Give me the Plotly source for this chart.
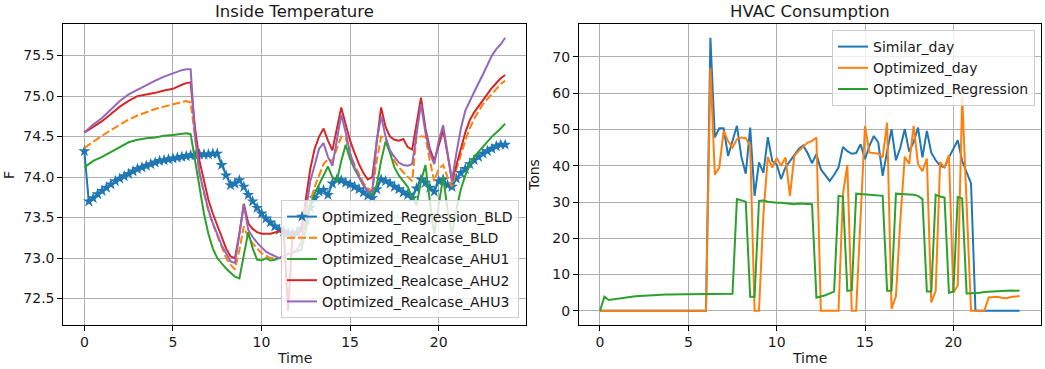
import plotly.graph_objects as go

# ---------------- data ----------------
# 15-minute time grid (hours)
time_h = [0, 0.25, 0.5, 0.75, 1, 1.25, 1.5, 1.75, 2, 2.25, 2.5, 2.75, 3, 3.25, 3.5, 3.75,
          4, 4.25, 4.5, 4.75, 5, 5.25, 5.5, 5.75, 6, 6.25, 6.5, 6.75, 7, 7.25, 7.5, 7.75,
          8, 8.25, 8.5, 8.75, 9, 9.25, 9.5, 9.75, 10, 10.25, 10.5, 10.75, 11, 11.25, 11.5, 11.75,
          12, 12.25, 12.5, 12.75, 13, 13.25, 13.5, 13.75, 14, 14.25, 14.5, 14.75, 15, 15.25, 15.5, 15.75,
          16, 16.25, 16.5, 16.75, 17, 17.25, 17.5, 17.75, 18, 18.25, 18.5, 18.75, 19, 19.25, 19.5, 19.75,
          20, 20.25, 20.5, 20.75, 21, 21.25, 21.5, 21.75, 22, 22.25, 22.5, 22.75, 23, 23.25, 23.5, 23.75]

# Inside temperature (F)
regression_bld = [74.32, 73.70, 73.74, 73.79, 73.83, 73.87, 73.91, 73.95, 73.98, 74.01, 74.04, 74.07,
                  74.10, 74.12, 74.14, 74.16, 74.18, 74.20, 74.21, 74.22, 74.23, 74.24, 74.25, 74.26,
                  74.27, 74.27, 74.28, 74.28, 74.28, 74.29, 74.29, 74.15, 74.02, 73.90, 73.92, 73.96,
                  73.88, 73.78, 73.70, 73.62, 73.55, 73.49, 73.44, 73.39, 73.35, 73.33, 73.31, 73.30,
                  73.31, 73.36, 73.47, 73.62, 73.74, 73.82, 73.84, 73.78, 73.92, 73.97, 73.96, 73.93,
                  73.91, 73.88, 73.85, 73.81, 73.77, 73.74, 73.85, 73.97, 73.95, 73.92, 73.88, 73.85,
                  73.81, 73.78, 73.74, 73.86, 73.97, 73.93, 73.87, 73.82, 73.95, 73.97, 73.90, 73.88,
                  73.98, 74.05, 74.10, 74.16, 74.21, 74.25, 74.29, 74.32, 74.35, 74.38, 74.40, 74.40]

realcase_bld_t = [0, 0.5, 1, 1.5, 2, 2.5, 3, 3.5, 4, 4.5, 5, 5.5, 5.75, 6, 6.25, 6.5, 6.75, 7, 7.25,
                  7.5, 7.75, 8, 8.25, 8.5, 8.75, 9, 9.25, 9.5, 9.75, 10, 10.25, 10.5, 11, 11.5, 12,
                  12.25, 12.5, 12.75, 13, 13.25, 13.5, 13.75, 14, 14.25, 14.5, 14.75, 15, 15.25, 15.5,
                  15.75, 16, 16.25, 16.5, 16.75, 17, 17.25, 17.5, 17.75, 18, 18.25, 18.5, 18.75, 19,
                  19.25, 19.5, 19.75, 20, 20.25, 20.5, 20.75, 21, 21.25, 21.5, 21.75, 22, 22.5, 23,
                  23.5, 23.75]
realcase_bld = [74.36, 74.44, 74.51, 74.58, 74.65, 74.71, 74.76, 74.80, 74.84, 74.87, 74.90, 74.93,
                74.94, 74.92, 74.45, 74.05, 73.80, 73.58, 73.42, 73.28, 73.13, 73.00, 72.92, 72.86,
                73.10, 73.39, 73.26, 73.18, 73.12, 73.06, 73.03, 73.00, 73.00, 73.05, 73.10, 73.20,
                73.45, 73.70, 73.88, 74.02, 74.16, 74.22, 74.20, 74.35, 74.50, 74.48, 74.28, 74.15,
                74.04, 73.93, 73.86, 73.83, 74.20, 74.50, 74.48, 74.32, 74.20, 74.12, 74.06, 74.00,
                73.95, 74.50, 74.50, 74.50, 74.20, 73.95, 74.10, 74.15, 74.00, 73.88, 74.10, 74.28,
                74.45, 74.60, 74.72, 74.90, 75.03, 75.15, 75.19]

ahu1_t = [0, 0.5, 1, 1.5, 2, 2.5, 3, 3.5, 4, 4.5, 5, 5.5, 5.75, 6, 6.25, 6.5, 6.75, 7, 7.25, 7.5,
          7.75, 8, 8.25, 8.5, 8.75, 9, 9.25, 9.5, 9.75, 10, 10.25, 10.5, 10.75, 11, 11.5, 12, 12.25,
          12.5, 12.75, 13, 13.25, 13.5, 13.75, 14, 14.25, 14.5, 14.75, 15, 15.25, 15.5, 15.75, 16,
          16.25, 16.5, 16.75, 17, 17.25, 17.5, 17.75, 18, 18.25, 18.5, 18.75, 19, 19.25, 19.5,
          19.75, 20, 20.25, 20.5, 20.75, 21, 21.25, 21.5, 21.75, 22, 22.5, 23, 23.5, 23.75]
ahu1 = [74.12, 74.20, 74.25, 74.31, 74.38, 74.43, 74.46, 74.48, 74.49, 74.51, 74.52, 74.53, 74.54,
        74.53, 74.20, 73.85, 73.55, 73.30, 73.12, 73.00, 72.93, 72.87, 72.82, 72.77, 72.75, 73.05,
        73.32, 73.12, 72.98, 72.97, 73.00, 72.97, 72.98, 73.00, 73.05, 73.08, 73.10, 73.35, 73.65,
        73.80, 73.92, 74.02, 74.13, 74.00, 73.95, 74.20, 74.40, 74.22, 74.10, 74.00, 73.90, 73.83,
        73.78, 73.90, 74.20, 74.44, 74.30, 74.12, 74.02, 73.95, 73.88, 73.75, 73.65, 73.95, 74.15,
        73.70, 73.30, 73.65, 74.00, 73.60, 73.30, 73.60, 73.85, 74.02, 74.15, 74.25, 74.38, 74.50,
        74.60, 74.66]

ahu2_t = [0, 0.5, 1, 1.5, 2, 2.5, 3, 3.5, 4, 4.5, 5, 5.5, 5.75, 6, 6.25, 6.5, 6.75, 7, 7.25, 7.5,
          7.75, 8, 8.25, 8.5, 8.75, 9, 9.25, 9.5, 9.75, 10, 10.5, 11, 11.25, 11.5, 11.75, 12, 12.25,
          12.5, 12.75, 13, 13.25, 13.5, 13.75, 14, 14.25, 14.5, 14.75, 15, 15.25, 15.5, 15.75, 16,
          16.25, 16.5, 16.75, 17, 17.25, 17.5, 17.75, 18, 18.25, 18.5, 18.75, 19, 19.25, 19.5,
          19.75, 20, 20.25, 20.5, 20.75, 21, 21.25, 21.5, 21.75, 22, 22.5, 23, 23.5, 23.75]
ahu2 = [74.55, 74.62, 74.69, 74.78, 74.87, 74.94, 75.00, 75.02, 75.04, 75.07, 75.09, 75.14, 75.16,
        75.17, 74.60, 74.20, 73.95, 73.72, 73.55, 73.40, 73.25, 73.12, 73.02, 73.00, 73.30, 73.67,
        73.43, 73.36, 73.32, 73.30, 73.30, 73.33, 73.33, 72.35, 73.30, 73.30, 73.35, 73.75, 74.10,
        74.35, 74.50, 74.60, 74.45, 74.33, 74.60, 74.86, 74.65, 74.45, 74.30, 74.16, 74.05, 73.97,
        74.00, 74.45, 74.86, 74.62, 74.50, 74.46, 74.45, 74.47, 74.37, 74.34, 74.65, 74.98, 74.60,
        74.35, 74.20, 74.40, 74.58, 74.28, 73.95, 74.15, 74.35, 74.55, 74.70, 74.80, 74.95, 75.10,
        75.22, 75.26]

ahu3_t = [0, 0.5, 1, 1.5, 2, 2.5, 3, 3.5, 4, 4.5, 5, 5.5, 5.75, 6, 6.25, 6.5, 6.75, 7, 7.25, 7.5,
          7.75, 8, 8.25, 8.5, 8.75, 9, 9.25, 9.5, 9.75, 10, 10.25, 10.5, 10.75, 11, 11.25, 11.5,
          11.75, 12, 12.25, 12.5, 12.75, 13, 13.25, 13.5, 13.75, 14, 14.25, 14.5, 14.75, 15, 15.25,
          15.5, 15.75, 16, 16.25, 16.5, 16.75, 17, 17.25, 17.5, 17.75, 18, 18.25, 18.5, 18.75, 19,
          19.25, 19.5, 19.75, 20, 20.25, 20.5, 20.75, 21, 21.25, 21.5, 21.75, 22, 22.5, 23, 23.25,
          23.5, 23.75]
ahu3 = [74.55, 74.65, 74.73, 74.83, 74.94, 75.02, 75.08, 75.14, 75.19, 75.24, 75.28, 75.32, 75.33,
        75.33, 74.50, 74.05, 73.82, 73.60, 73.43, 73.30, 73.16, 73.06, 72.96, 72.94, 73.30, 73.66,
        73.35, 73.26, 73.19, 73.13, 73.08, 73.05, 73.02, 73.00, 73.02, 73.05, 73.07, 73.10, 73.20,
        73.60, 73.95, 74.15, 74.35, 74.42, 74.25, 74.14, 74.45, 74.77, 74.55, 74.30, 74.12, 74.00,
        73.90, 73.82, 73.82, 74.45, 74.75, 74.50, 74.33, 74.25, 74.18, 74.15, 74.14, 74.16, 74.55,
        74.90, 74.55, 74.30, 74.16, 74.45, 74.64, 74.30, 73.96, 74.30, 74.60, 74.82, 74.94, 75.05,
        75.27, 75.50, 75.58, 75.64, 75.72]

# HVAC consumption (tons)
similar_day = [0, 0, 0, 0, 0, 0, 0, 0, 0, 0, 0, 0, 0, 0, 0, 0, 0, 0, 0, 0, 0, 0, 0, 0, 0,
               75.3, 47.8, 50.3, 50.3, 42.7, 46.8, 51.0, 42.5, 37.8, 50.5, 31.7, 40.9, 38.0, 47.9,
               41.3, 40.4, 36.3, 39.6, 41.2, 42.7, 44.6, 45.6, 43.5, 40.7, 43.2, 39.0, 37.3, 35.8,
               37.5, 39.5, 45.2, 44.0, 43.3, 43.5, 45.9, 41.8, 45.5, 48.2, 46.4, 37.2, 44.0, 50.1,
               41.5, 45.0, 50.1, 43.9, 46.5, 50.5, 42.3, 49.6, 43.6, 41.5, 40.0, 39.5, 42.3, 44.5,
               47.0, 41.3, 38.0, 35.1, 0, 0, 0, 0, 0, 0, 0, 0, 0, 0, 0]
optimized_day = [0, 0, 0, 0, 0, 0, 0, 0, 0, 0, 0, 0, 0, 0, 0, 0, 0, 0, 0, 0, 0, 0, 0, 0, 0,
                 67.0, 37.5, 39.5, 49.6, 46.8, 45.0, 47.3, 47.8, 47.6, 45.5, 0, 0, 26.6, 42.4, 39.5,
                 42.1, 40.0, 42.3, 31.7, 42.7, 44.1, 45.2, 46.4, 46.8, 47.8, 0, 0, 0, 0, 0, 32.1,
                 40.2, 0, 0, 26.0, 51.0, 43.6, 43.5, 43.4, 42.3, 51.9, 0.5, 4.0, 25.0, 42.5, 40.5,
                 51.0, 40.5, 38.5, 42.0, 2.3, 5.5, 41.0, 39.5, 43.0, 5.0, 7.0, 59.0, 28.0, 0, 0, 0,
                 0, 3.7, 3.9, 3.9, 3.6, 3.5, 3.8, 4.0, 4.1]
optimized_regression = [0, 3.9, 3.0, 3.2, 3.4, 3.6, 3.7, 3.9, 4.0, 4.1, 4.2, 4.3, 4.4, 4.4, 4.5, 4.5,
                        4.5, 4.6, 4.6, 4.6, 4.6, 4.6, 4.6, 4.6, 4.6, 4.6, 4.6, 4.6, 4.6, 4.6, 4.7,
                        30.8, 30.4, 30.1, 3.9, 3.9, 30.3, 30.4, 30.1, 29.9, 29.8, 29.8, 29.7, 29.6,
                        29.4, 29.6, 29.5, 29.5, 29.4, 3.6, 3.9, 4.3, 4.8, 5.3, 31.7, 31.5, 5.5, 5.7,
                        32.3, 32.2, 32.1, 32.0, 31.9, 31.8, 31.7, 5.5, 5.5, 32.3, 32.3, 32.2, 32.1,
                        32.0, 31.7, 30.8, 5.3, 5.3, 32.0, 31.5, 31.2, 5.0, 5.3, 31.4, 31.0, 4.8, 4.8,
                        4.9, 5.0, 5.2, 5.3, 5.4, 5.4, 5.5, 5.6, 5.6, 5.5, 5.6]

x_ticks = [0, 5, 10, 15, 20]
temp_ticks = [72.5, 73.0, 73.5, 74.0, 74.5, 75.0, 75.5]
tons_ticks = [0, 10, 20, 30, 40, 50, 60, 70]

# ---------------- styling ----------------
BLUE, ORANGE, GREEN, RED, PURPLE = "#1f77b4", "#ff7f0e", "#2ca02c", "#d62728", "#9467bd"
FONT = "DejaVu Sans"
TXT = "#1a1a1a"
W, H = 1045, 369
LW = 2


def px(xp):
    """screen x pixel -> paper x"""
    return xp / W


def py(yp):
    """screen y pixel -> paper y"""
    return (H - yp) / H


fig = go.Figure()

# left subplot
fig.add_trace(go.Scatter(x=time_h, y=regression_bld, name="Optimized_Regression_BLD",
                         mode="lines+markers", line=dict(color=BLUE, width=LW),
                         marker=dict(symbol="star", size=9, color=BLUE),
                         xaxis="x", yaxis="y", legend="legend"))
fig.add_trace(go.Scatter(x=realcase_bld_t, y=realcase_bld, name="Optimized_Realcase_BLD",
                         mode="lines", line=dict(color=ORANGE, width=LW, dash="8px,3px"),
                         xaxis="x", yaxis="y", legend="legend"))
fig.add_trace(go.Scatter(x=ahu1_t, y=ahu1, name="Optimized_Realcase_AHU1",
                         mode="lines", line=dict(color=GREEN, width=LW),
                         xaxis="x", yaxis="y", legend="legend"))
fig.add_trace(go.Scatter(x=ahu2_t, y=ahu2, name="Optimized_Realcase_AHU2",
                         mode="lines", line=dict(color=RED, width=LW),
                         xaxis="x", yaxis="y", legend="legend"))
fig.add_trace(go.Scatter(x=ahu3_t, y=ahu3, name="Optimized_Realcase_AHU3",
                         mode="lines", line=dict(color=PURPLE, width=LW),
                         xaxis="x", yaxis="y", legend="legend"))

# right subplot
fig.add_trace(go.Scatter(x=time_h, y=similar_day, name="Similar_day", mode="lines",
                         line=dict(color=BLUE, width=LW), xaxis="x2", yaxis="y2", legend="legend2"))
fig.add_trace(go.Scatter(x=time_h, y=optimized_day, name="Optimized_day", mode="lines",
                         line=dict(color=ORANGE, width=LW), xaxis="x2", yaxis="y2", legend="legend2"))
fig.add_trace(go.Scatter(x=time_h, y=optimized_regression, name="Optimized_Regression", mode="lines",
                         line=dict(color=GREEN, width=LW), xaxis="x2", yaxis="y2", legend="legend2"))

axis_common = dict(showline=True, mirror=True, linecolor="black", linewidth=1,
                   showgrid=True, gridcolor="#b0b0b0", gridwidth=1, zeroline=False,
                   ticks="outside", ticklen=5, tickcolor="black", tickwidth=1,
                   tickfont=dict(family=FONT, size=14, color=TXT))

y_dom = [py(324.5), py(24)]
legend_common = dict(bgcolor="rgba(255,255,255,0.8)", bordercolor="#cccccc", borderwidth=1,
                     font=dict(family=FONT, size=14, color=TXT), tracegroupgap=0, itemwidth=30)

fig.update_layout(
    width=W, height=H, template="none",
    paper_bgcolor="white", plot_bgcolor="white",
    margin=dict(l=0, r=0, t=0, b=0, autoexpand=False),
    font=dict(family=FONT, size=14, color=TXT),
    xaxis=dict(domain=[px(63.3), px(526.2)], range=[-1.1875, 24.9375], tickvals=x_ticks,
               anchor="y", **axis_common),
    yaxis=dict(domain=y_dom, range=[72.18, 75.89], tickvals=temp_ticks,
               tickformat=".1f", anchor="x", **axis_common),
    xaxis2=dict(domain=[px(579.0), px(1040.6)], range=[-1.1875, 24.9375], tickvals=x_ticks,
                anchor="y2", **axis_common),
    yaxis2=dict(domain=y_dom, range=[-3.77, 79.07], tickvals=tons_ticks,
                anchor="x2", **axis_common),
    legend=dict(x=px(519), y=py(318), xanchor="right", yanchor="bottom", **legend_common),
    legend2=dict(x=px(1035), y=py(30), xanchor="right", yanchor="top", **legend_common),
    showlegend=True,
)

ann = dict(xref="paper", yref="paper", showarrow=False, xanchor="center", yanchor="middle")
title_font = dict(family=FONT, size=16.5, color=TXT)
label_font = dict(family=FONT, size=14, color=TXT)
fig.add_annotation(text="Inside Temperature", x=px(294.7), y=py(12), font=title_font, **ann)
fig.add_annotation(text="HVAC Consumption", x=px(809.8), y=py(12), font=title_font, **ann)
fig.add_annotation(text="Time", x=px(294.7), y=py(358), font=label_font, **ann)
fig.add_annotation(text="Time", x=px(809.8), y=py(358), font=label_font, **ann)
fig.add_annotation(text="F", x=px(9), y=py(175), textangle=-90, font=label_font, **ann)
fig.add_annotation(text="Tons", x=px(534), y=py(175), textangle=-90, font=label_font, **ann)

# the page's default body margin would shift the 1045x369 figure; remove it
fig.write_html("out.html", config={"displayModeBar": False},
               post_script="document.body.style.margin='0px';")
